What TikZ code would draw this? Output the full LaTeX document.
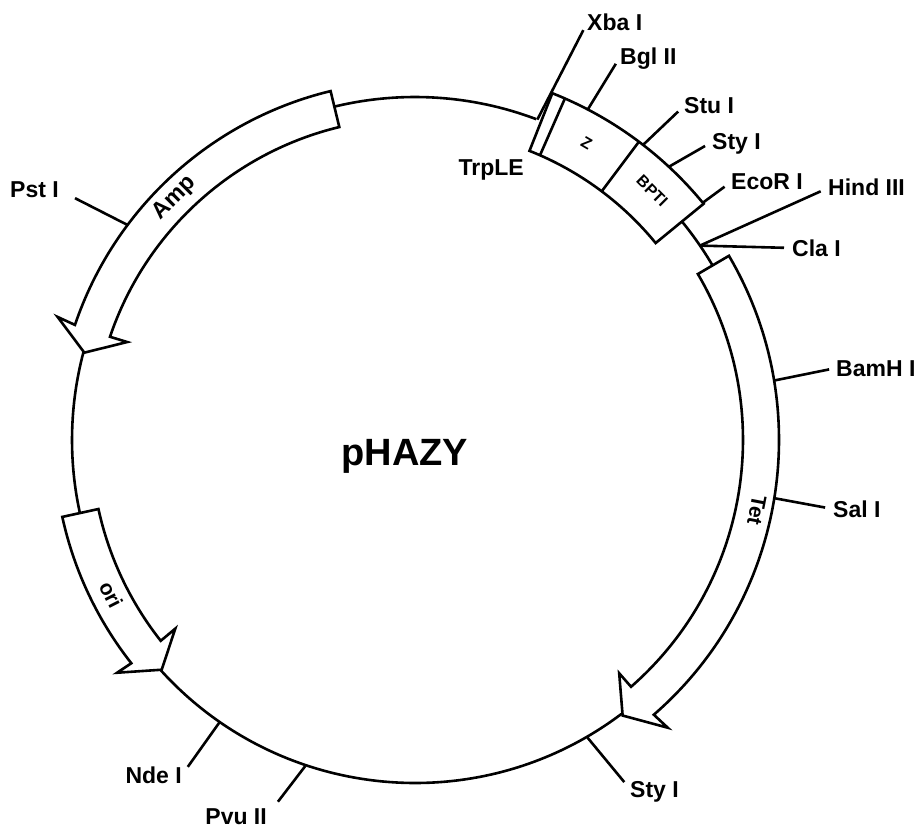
\documentclass[tikz,border=0pt]{standalone}
\usepackage{fontspec}
\setmainfont{Liberation Sans}
\tikzset{plasmid/.style={line width=2.6pt}}
\tikzset{sitetick/.style={line width=2.6pt, shorten >=#1}, sitetick/.default=8pt}
\tikzset{sitelabel/.style={font=\bfseries\fontsize{23}{23}\selectfont, inner sep=0pt, text height=16pt, text depth=0pt}}
\tikzset{genelabel/.style={font=\bfseries\fontsize{#1}{#1}\selectfont, inner sep=0pt}}
\newcommand{\fsite}[4]{\coordinate (#1base) at (#2); \draw[sitetick=#4] (#1base) -- (#1.#3);}
\begin{document}
\begin{tikzpicture}[x=1pt, y=1pt]
\useasboundingbox (-415,-388) rectangle (503,440);
% backbone between the inserts
\draw[plasmid] (69.3:343) arc[start angle=69.3, end angle=103.6, radius=343];
\draw[plasmid] (165.2:343) arc[start angle=165.2, end angle=192.3, radius=343];
\draw[plasmid] (222.2:343) arc[start angle=222.2, end angle=307, radius=343];
\draw[plasmid] (30.4:345) arc[start angle=30.4, end angle=39.3, radius=345];
% resistance genes and origin
\draw[plasmid] (103.6:359) arc[start angle=103.6, end angle=161.3, radius=359] -- (161:378) -- (165.2:342) -- (161.2:304) -- (161.3:322) arc[start angle=161.3, end angle=103.6, radius=322] -- cycle;
\draw[plasmid] (192.3:361) arc[start angle=192.3, end angle=218.2, radius=361] -- (218:378) -- (222.2:342) -- (218.2:305) -- (218.3:324) arc[start angle=218.3, end angle=192.3, radius=324] -- cycle;
\draw[plasmid] (30.4:364) arc[start angle=30.4, end angle=-49, radius=364] -- (-48.7:383) -- (-53:345) -- (-48.8:310) -- (-48.8:328) arc[start angle=-48.8, end angle=30.4, radius=328] -- cycle;
% fusion insert
\draw[plasmid] (68.4:373) arc[start angle=68.4, end angle=39.3, radius=373] -- (39.3:311) arc[start angle=39.3, end angle=68.4, radius=311] -- cycle;
\draw[plasmid] (66.3:372) -- (66.3:311);
\draw[plasmid] (53.1:373) -- (53.1:311);
% insert and gene names
\node[genelabel=23, rotate=45] (amp) at (134.8:341) {Amp};
\node[genelabel=21, rotate=-63] (ori) at (207:341) {ori};
\node[genelabel=21, rotate=-101] (tet) at (-11.6:349) {Tet};
\node[genelabel=16, rotate=-30] (zgene) at (60:343) {Z};
\node[genelabel=16, rotate=-45] (bpti) at (46.4:344) {BPTI};
\node[sitelabel, anchor=east] (trple) at (109,272) {TrpLE};
\node[font=\bfseries\fontsize{38}{38}\selectfont, inner sep=0pt] (name) at (-10,-16.5) {pHAZY};
% restriction sites
\node[sitelabel, anchor=east] (pst) at (-356,250) {Pst I};
\node[sitelabel, anchor=west] (xba) at (172,417) {Xba I};
\node[sitelabel, anchor=west] (bgl) at (205,383) {Bgl II};
\node[sitelabel, anchor=west] (stu) at (269,334) {Stu I};
\node[sitelabel, anchor=west] (styA) at (297,298) {Sty I};
\node[sitelabel, anchor=west] (eco) at (316,258) {EcoR I};
\node[sitelabel, anchor=west] (hind) at (413,252) {Hind III};
\node[sitelabel, anchor=west] (cla) at (377,192) {Cla I};
\node[sitelabel, anchor=west] (bam) at (421,72) {BamH I};
\node[sitelabel, anchor=west] (sal) at (418,-69) {Sal I};
\node[sitelabel, anchor=west] (styB) at (215,-349) {Sty I};
\node[sitelabel, anchor=east] (nde) at (-233,-335) {Nde I};
\node[sitelabel, anchor=east] (pvu) at (-148,-376) {Pvu II};
\fsite{pst}{143.2:359}{east}{18pt}
\fsite{xba}{69.1:343}{west}{8pt}
\fsite{bgl}{62.4:373}{west}{8pt}
\fsite{stu}{52.3:373}{west}{8pt}
\fsite{styA}{47.1:373}{west}{8pt}
\fsite{eco}{39.5:373}{west}{8pt}
\fsite{hind}{34.3:345}{west}{8pt}
\fsite{cla}{34.3:345}{west}{8pt}
\fsite{bam}{9.4:364}{west}{7pt}
\fsite{sal}{-9.2:364}{west}{8pt}
\fsite{styB}{-59.9:344}{west}{9pt}
\fsite{nde}{235.3:343}{east}{10pt}
\fsite{pvu}{251.4:344}{east}{18pt}
\end{tikzpicture}
\end{document}
